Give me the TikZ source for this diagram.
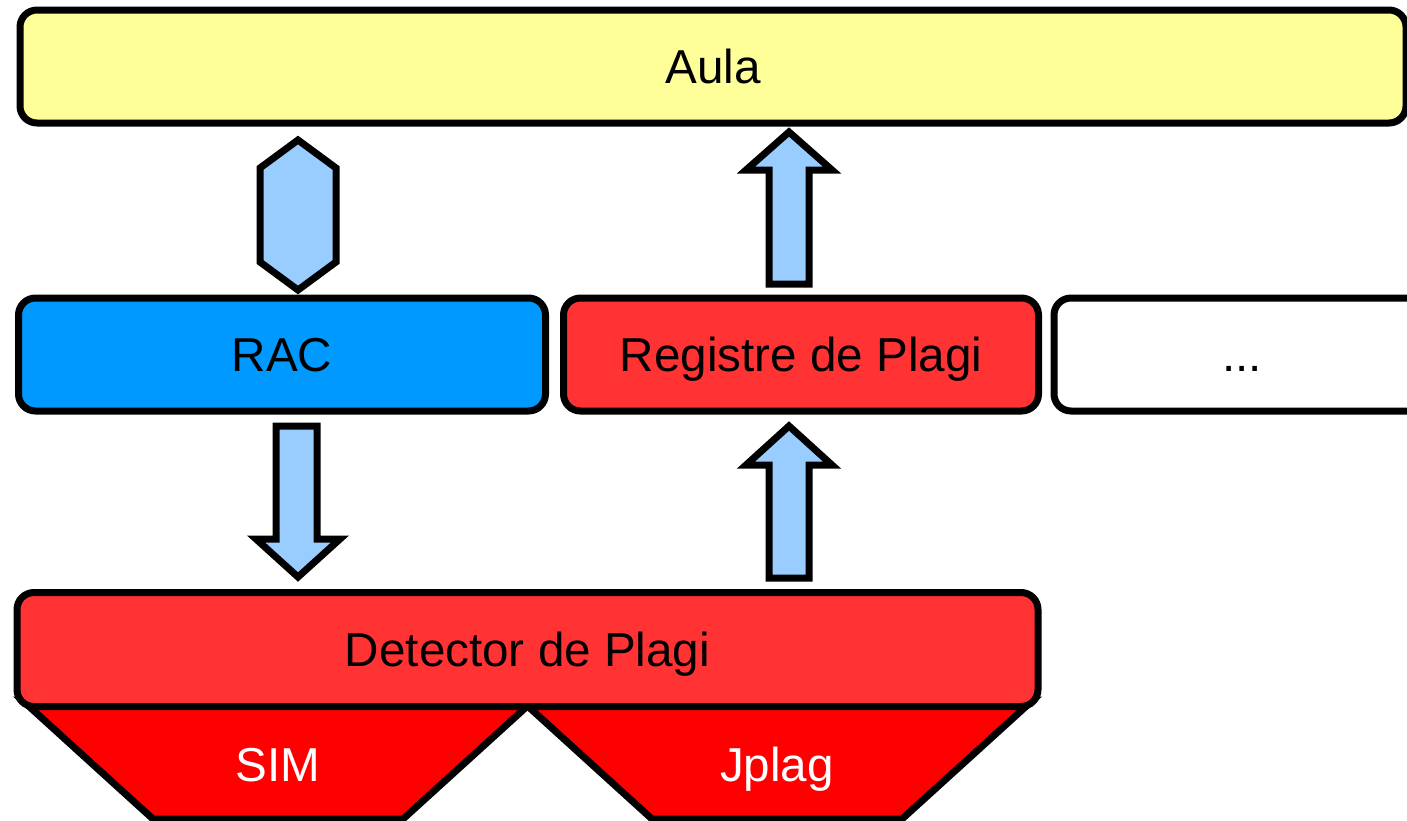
\documentclass[tikz,border=0pt]{standalone}
\usepackage{fontspec}
\setmainfont{Liberation Sans}
\definecolor{aulaY}{HTML}{FFFF99}
\definecolor{racB}{HTML}{0099FF}
\definecolor{regR}{HTML}{FF3333}
\definecolor{trapR}{HTML}{FF0000}
\definecolor{arrB}{HTML}{99CCFF}
\begin{document}
\begin{tikzpicture}[x=0.5pt,y=-0.5pt,
  lbl/.style={inner sep=0pt, font=\fontsize{23.8}{28}\selectfont, text height=17pt, text depth=0pt},
  box/.style={lbl, draw=black, line width=3.5pt, rounded corners=8.5pt},
  blk/.style={draw=black, line width=3.5pt, fill=arrB, line join=miter},
  trap/.style={draw=black, line width=3.5pt, fill=trapR, line join=miter}]
\useasboundingbox (0,0) rectangle (1407,820);
\clip (0,0) rectangle (1407,820);
% tools below the detector
\draw[trap] (22,700) -- (534,700) -- (403,819) -- (153,819) -- cycle;
\node[lbl, text=white] (sim) at (278,764) {SIM};
\draw[trap] (521,700) -- (1033,700) -- (902,819) -- (652,819) -- cycle;
\node[lbl, text=white] (jplag) at (777,764) {Jplag};
% boxes
\node[box, fill=aulaY, minimum width=693pt, minimum height=56.5pt] (aula) at (713,66.5) {Aula};
\node[box, fill=racB, minimum width=263.5pt, minimum height=56.5pt] (rac) at (282,354.5) {RAC};
\node[box, fill=regR, minimum width=237.5pt, minimum height=56.5pt] (reg) at (801,354.5) {Registre de Plagi};
\node[box, fill=white, minimum width=188pt, minimum height=56.5pt] (more) at (1242,354.5) {...};
\node[box, fill=regR, minimum width=510.5pt, minimum height=57pt] (det) at (527.5,649.5) {Detector de Plagi};
% block arrows
\draw[blk] (298,140) -- (336,168) -- (336,262) -- (298,290) -- (260,262) -- (260,168) -- cycle;
\draw[blk] (789,132) -- (832,170) -- (809,170) -- (809,284) -- (769,284) -- (769,170) -- (746,170) -- cycle;
\draw[blk] (276,426) -- (317,426) -- (317,539) -- (340,539) -- (298,577) -- (256,539) -- (276,539) -- cycle;
\draw[blk] (789,426) -- (832,465) -- (809,465) -- (809,578) -- (769,578) -- (769,465) -- (746,465) -- cycle;
\end{tikzpicture}
\end{document}
